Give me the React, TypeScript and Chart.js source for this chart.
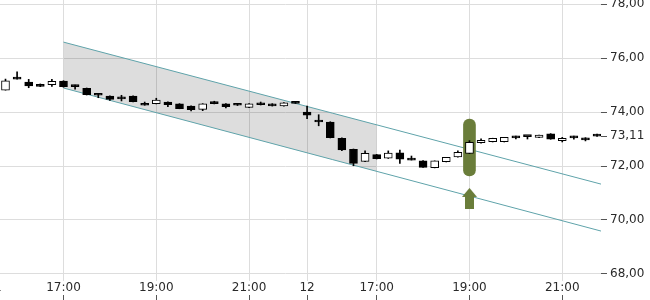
import React, { useEffect, useRef } from 'react';
import { Chart, registerables } from 'chart.js';

Chart.register(...registerables);

// 15-minute candles (index 0 = 15:45 on day 11)
const opens = [
  74.81, 75.23, 75.11, 75.0, 75.01, 75.15, 74.95, 74.88, 74.67, 74.59,
  74.55, 74.59, 74.32, 74.31, 74.37, 74.3, 74.22, 74.1, 74.39, 74.3,
  74.3, 74.17, 74.33, 74.3, 74.23, 74.33, 74.0, 73.64, 73.63, 73.03,
  72.62, 72.17, 72.42, 72.29, 72.49, 72.23, 72.19, 71.94, 72.16, 72.34,
  72.47, 72.86, 72.9, 72.9, 73.1, 73.1, 73.06, 73.19, 72.94, 73.05,
  73.04, 73.14,
];
const highs = [
  75.22, 75.49, 75.21, 75.04, 75.21, 75.16, 75.0, 74.89, 74.68, 74.6,
  74.62, 74.6, 74.37, 74.51, 74.38, 74.31, 74.23, 74.31, 74.4, 74.31,
  74.31, 74.31, 74.37, 74.31, 74.35, 74.33, 74.22, 73.9, 73.64, 73.04,
  72.63, 72.56, 72.43, 72.56, 72.59, 72.37, 72.2, 72.19, 72.32, 72.56,
  72.94, 73.01, 73.03, 73.06, 73.11, 73.1, 73.15, 73.2, 73.06, 73.11,
  73.05, 73.18,
];
const lows = [
  74.81, 75.22, 74.9, 74.94, 74.95, 74.92, 74.85, 74.63, 74.53, 74.43,
  74.41, 74.37, 74.25, 74.3, 74.2, 74.12, 74.04, 74.05, 74.3, 74.15,
  74.24, 74.16, 74.26, 74.22, 74.22, 74.32, 73.75, 73.49, 73.04, 72.57,
  72.01, 72.16, 72.26, 72.28, 72.1, 72.22, 71.95, 71.93, 72.15, 72.33,
  72.46, 72.85, 72.89, 72.89, 73.0, 73.0, 73.05, 72.99, 72.89, 72.99,
  72.93, 73.1,
];
const closes = [
  75.16, 75.22, 74.97, 74.95, 75.14, 74.94, 74.94, 74.64, 74.62, 74.47,
  74.49, 74.38, 74.25, 74.44, 74.27, 74.12, 74.09, 74.3, 74.31, 74.2,
  74.25, 74.3, 74.27, 74.23, 74.34, 74.32, 73.88, 73.63, 73.05, 72.6,
  72.1, 72.47, 72.27, 72.48, 72.25, 72.22, 71.95, 72.19, 72.32, 72.51,
  72.88, 72.95, 73.03, 73.06, 73.04, 73.09, 73.15, 72.99, 73.03, 73.04,
  72.97, 73.11,
];

const xTickIndex = [-1, 5, 13, 21, 26, 32, 40, 48];
const xTickLabels = ['11', '17:00', '19:00', '21:00', '12', '17:00', '19:00', '21:00'];
const yTickValues = [68, 70, 72, 73.11, 74, 76, 78];
const lastPrice = 73.11;

const channelX = [5, 51.34];
const channelUpper = [76.59, 71.33];
const channelLower = [74.89, 69.59];
const shadeX = [5, 32];
const shadeUpper = [76.59, 73.53];
const shadeLower = [74.89, 71.8];

const signalIndex = 40;
const signalRange = [71.63, 73.74];
const arrowValue = 70.8;

const X_MIN = -3.06;
const X_MAX = 51.34;
const Y_MIN = 67.74;
const Y_MAX = 78.15;

const GRID = '#dddddd';
const TEAL = '#5fa3aa';
const GREEN = '#6a7d3a';
const TEXT = '#2a2a2a';
const FONT = { family: 'DejaVu Sans', size: 12 };

export default function App() {
  const ref = useRef<HTMLCanvasElement | null>(null);

  useEffect(() => {
    if (!ref.current) return;

    const arrow = document.createElement('canvas');
    arrow.width = 15;
    arrow.height = 21;
    const g = arrow.getContext('2d')!;
    g.fillStyle = GREEN;
    g.beginPath();
    g.moveTo(0, 9);
    g.lineTo(7.5, 0);
    g.lineTo(15, 9);
    g.closePath();
    g.fill();
    g.fillRect(3, 9, 9, 12);

    const idx = opens.map((_, i) => i);
    const bodies = idx.map((i) => ({
      x: i,
      y: [Math.min(opens[i], closes[i]), Math.max(opens[i], closes[i])],
    }));
    const bodyColors = idx.map((i) => (closes[i] > opens[i] ? '#ffffff' : '#000000'));
    const wicks = idx.map((i) => ({ x: i, y: [lows[i], highs[i]] }));

    const yFmt = (v: any) => Number(v).toFixed(2).replace('.', ',');

    const chart = new Chart(ref.current, {
      type: 'bar',
      data: {
        datasets: [
          {
            type: 'bar',
            label: 'body',
            data: bodies as any,
            backgroundColor: bodyColors,
            borderColor: '#000000',
            borderWidth: 1,
            borderSkipped: false,
            barThickness: 8,
            minBarLength: 2,
            grouped: false,
            order: 0,
          } as any,
          {
            type: 'bar',
            label: 'wick',
            data: wicks as any,
            backgroundColor: '#000000',
            barThickness: 1,
            minBarLength: 1,
            grouped: false,
            order: 1,
          } as any,
          {
            type: 'line',
            label: 'arrow',
            data: [{ x: signalIndex, y: arrowValue }],
            pointStyle: arrow,
            pointRadius: 8,
            showLine: false,
            order: 2,
          } as any,
          {
            type: 'bar',
            label: 'signal',
            data: [{ x: signalIndex, y: signalRange }] as any,
            backgroundColor: GREEN,
            barThickness: 12,
            borderRadius: 6,
            borderSkipped: false,
            grouped: false,
            order: 3,
          } as any,
          {
            type: 'line',
            label: 'upper',
            data: channelX.map((x, i) => ({ x, y: channelUpper[i] })),
            borderColor: TEAL,
            borderWidth: 1,
            pointRadius: 0,
            fill: false,
            order: 4,
          } as any,
          {
            type: 'line',
            label: 'lower',
            data: channelX.map((x, i) => ({ x, y: channelLower[i] })),
            borderColor: TEAL,
            borderWidth: 1,
            pointRadius: 0,
            fill: false,
            order: 4,
          } as any,
          {
            type: 'line',
            label: 'shadeTop',
            data: shadeX.map((x, i) => ({ x, y: shadeUpper[i] })),
            borderWidth: 0,
            borderColor: 'rgba(0,0,0,0)',
            pointRadius: 0,
            fill: false,
            order: 5,
          } as any,
          {
            type: 'line',
            label: 'shadeBottom',
            data: shadeX.map((x, i) => ({ x, y: shadeLower[i] })),
            borderWidth: 0,
            borderColor: 'rgba(0,0,0,0)',
            backgroundColor: 'rgba(0,0,0,0.135)',
            pointRadius: 0,
            fill: '-1',
            order: 5,
          } as any,
        ],
      },
      options: {
        animation: false,
        responsive: false,
        layout: { padding: 0, autoPadding: false },
        plugins: { legend: { display: false }, tooltip: { enabled: false } },
        events: [],
        scales: {
          x: {
            type: 'linear',
            position: 'bottom',
            min: X_MIN,
            max: X_MAX,
            offset: false,
            weight: 0,
            grid: { color: GRID, drawTicks: false, offset: false },
            border: { display: false },
            ticks: {
              autoSkip: false,
              maxRotation: 0,
              padding: 0,
              color: TEXT,
              font: FONT,
              callback: (_v: any, i: number) => xTickLabels[i],
            },
            afterBuildTicks: (s: any) => {
              s.ticks = xTickIndex.map((v) => ({ value: v }));
            },
            afterFit: (s: any) => {
              s.height = 14;
              s.paddingLeft = 0;
              s.paddingRight = 0;
            },
          },
          x2: {
            type: 'linear',
            axis: 'x',
            position: 'bottom',
            min: X_MIN,
            max: X_MAX,
            offset: false,
            weight: 1,
            grid: {
              drawOnChartArea: false,
              drawTicks: true,
              tickLength: 5,
              tickColor: '#555555',
              offset: false,
            },
            border: { display: false },
            ticks: { display: false },
            afterBuildTicks: (s: any) => {
              s.ticks = xTickIndex.map((v) => ({ value: v }));
            },
            afterFit: (s: any) => {
              s.height = 5;
              s.paddingLeft = 0;
              s.paddingRight = 0;
            },
          } as any,
          y: {
            type: 'linear',
            position: 'right',
            min: Y_MIN,
            max: Y_MAX,
            grid: {
              color: (c: any) => (c.tick && c.tick.value === lastPrice ? 'rgba(0,0,0,0)' : GRID),
              tickColor: '#555555',
              tickLength: 6,
              drawTicks: true,
            },
            border: { display: false },
            ticks: { padding: 3, color: TEXT, font: FONT, callback: yFmt },
            afterBuildTicks: (s: any) => {
              s.ticks = yTickValues.map((v) => ({ value: v }));
            },
            afterFit: (s: any) => {
              s.width = 49;
              s.paddingTop = 0;
              s.paddingBottom = 0;
            },
          },
        },
      } as any,
    });

    return () => chart.destroy();
  }, []);

  return (
    <canvas
      ref={ref}
      width={680}
      height={300}
      style={{ position: 'absolute', left: -30, top: 0 }}
    />
  );
}
